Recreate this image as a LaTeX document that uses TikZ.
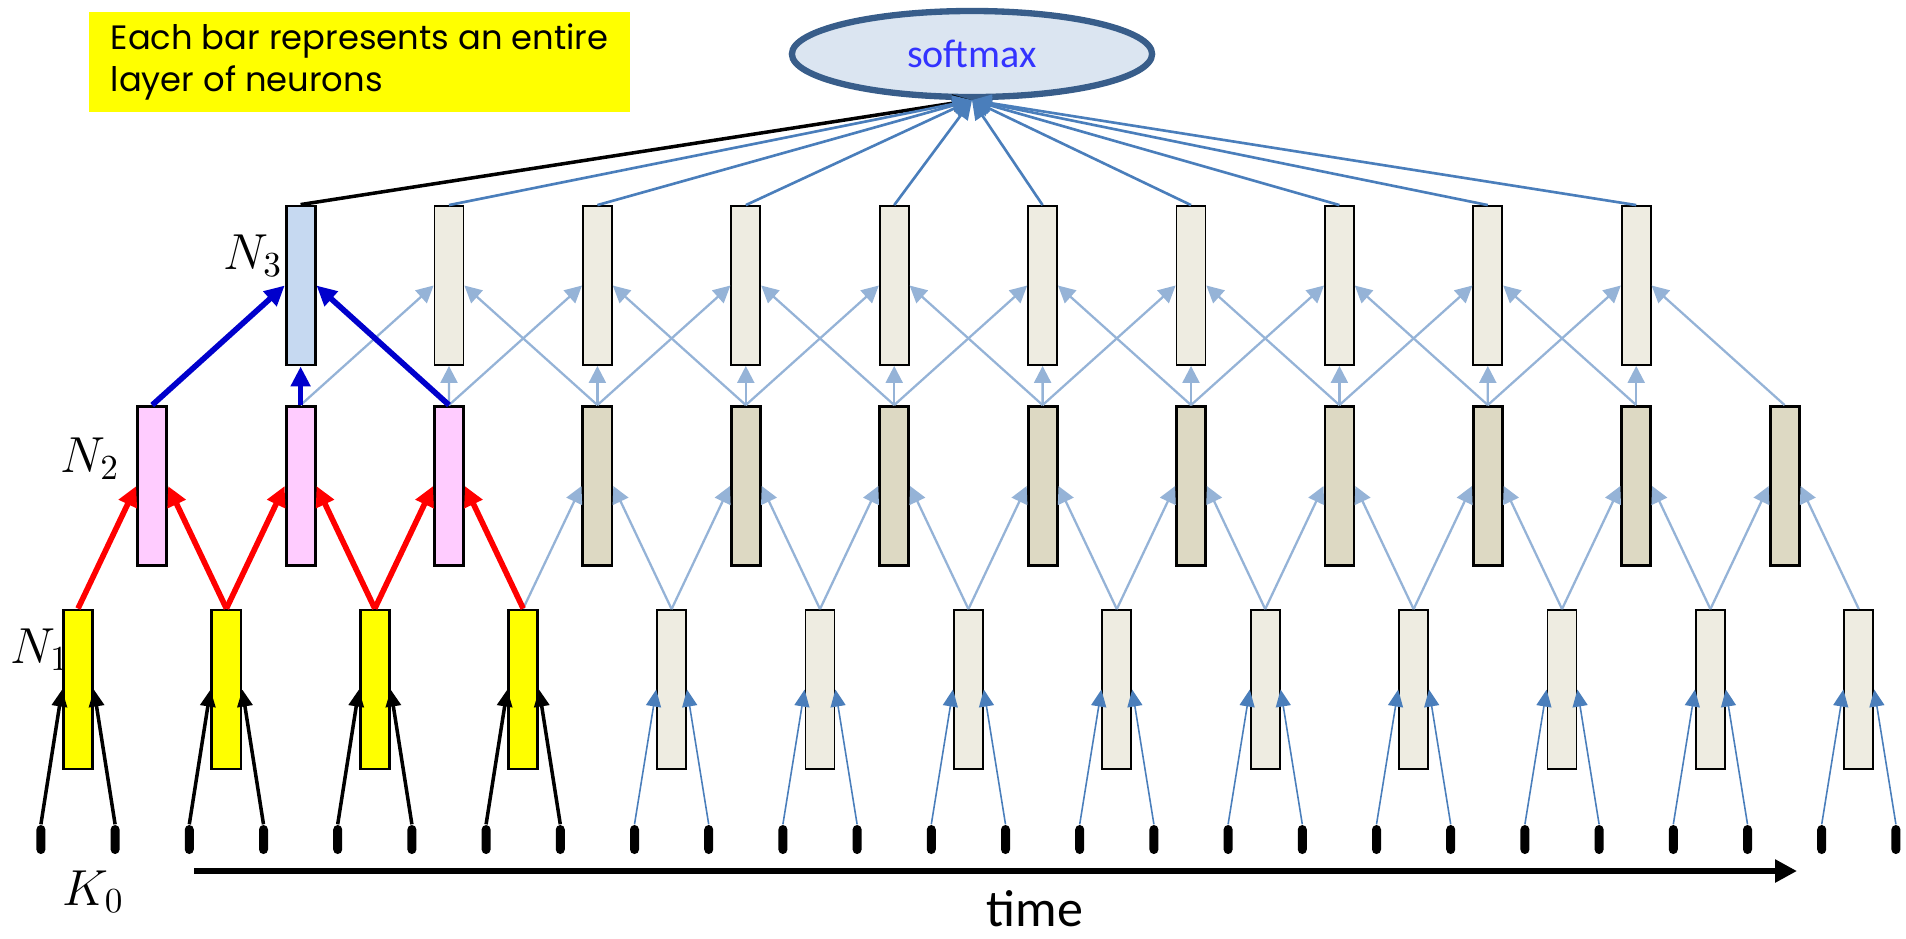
\documentclass[tikz,border=0pt]{standalone}
\usepackage{fontspec}
\setmainfont{Carlito}
\newfontfamily\notefont{Poppins}
\usepackage{xcolor}
\usetikzlibrary{arrows.meta,shapes.geometric}
\definecolor{barlight}{HTML}{EEECE1}
\definecolor{bardark}{HTML}{DDD9C3}
\definecolor{barpink}{HTML}{FFCCFF}
\definecolor{barblue}{HTML}{C6D9F1}
\definecolor{baryellow}{HTML}{FFFF00}
\definecolor{linkpale}{HTML}{95B3D7}
\definecolor{linkmid}{HTML}{4A7EBB}
\definecolor{linkdeep}{HTML}{0000CC}
\definecolor{linkred}{HTML}{FF0000}
\definecolor{smaxedge}{HTML}{385D8A}
\definecolor{smaxfill}{HTML}{DBE5F1}
\definecolor{smaxtext}{HTML}{3333FF}

\begin{document}
\begin{tikzpicture}[x=0.01cm, y=-0.01cm,
  bar/.style={draw=black, line width=0.8pt, minimum width=0.29cm, minimum height=1.59cm, inner sep=0pt},
  thinbar/.style={bar, line width=0.5pt},
  inmark/.style={fill=black, rounded corners=0.045cm, minimum width=0.09cm, minimum height=0.29cm, inner sep=0pt},
  layerlab/.style={anchor=base west, inner sep=0pt, font=\fontsize{14}{16}\selectfont},
  paleedge/.style={linkpale, line width=0.65pt, -{Triangle[length=0.17cm,width=0.17cm]}},
  inedge/.style={linkmid, line width=0.45pt, -{Triangle[length=0.17cm,width=0.15cm]}},
  blackin/.style={black, line width=1pt, -{Triangle[length=0.17cm,width=0.15cm]}},
  rededge/.style={linkred, line width=1.6pt, -{Triangle[length=0.2cm,width=0.19cm]}},
  deepedge/.style={linkdeep, line width=1.6pt, -{Triangle[length=0.2cm,width=0.19cm]}},
  outedge/.style={linkmid, line width=0.75pt, -{Triangle[length=0.19cm,width=0.17cm]}},
]
\useasboundingbox (0,0) rectangle (1906,938);

% ---------------- note ----------------
\node[fill=baryellow, minimum width=5.41cm, minimum height=0.95cm, align=left,
  font=\notefont\fontsize{9.6}{11.8}\selectfont] (note) at (359.5,62)
  {Each bar represents an entire\\layer of neurons};

% ---------------- softmax ----------------
\node[ellipse, draw=smaxedge, fill=smaxfill, line width=1.8pt, minimum width=3.6cm, minimum height=0.86cm,
  inner sep=0pt, text=smaxtext, font=\fontsize{11.4}{13}\selectfont] (smax) at (972,54) {softmax};

% ---------------- inputs K0 and layer N1 ----------------
\foreach \k in {0,...,12}{
  \pgfmathsetmacro\cx{78+148.4*\k}
  \node[inmark] (k0l-\k) at (\cx-37.1,839.5) {};
  \node[inmark] (k0r-\k) at (\cx+37.1,839.5) {};
  \ifnum\k<4
    \node[bar, fill=baryellow] (n1-\k) at (\cx,689.5) {};
  \else
    \node[thinbar, fill=barlight] (n1-\k) at (\cx,689.5) {};
  \fi
}

% ---------------- layer N2 ----------------
\foreach \k in {0,...,11}{
  \pgfmathsetmacro\cx{152.2+148.4*\k}
  \ifnum\k<3
    \node[bar, fill=barpink] (n2-\k) at (\cx,486) {};
  \else
    \node[bar, fill=bardark] (n2-\k) at (\cx,486) {};
  \fi
}

% ---------------- layer N3 ----------------
\foreach \k in {0,...,9}{
  \pgfmathsetmacro\cx{300.6+148.4*\k}
  \ifnum\k<1
    \node[bar, fill=barblue] (n3-\k) at (\cx,285.5) {};
  \else
    \node[thinbar, fill=barlight] (n3-\k) at (\cx,285.5) {};
  \fi
}

% ---------------- connections ----------------
\foreach \k in {0,...,12}{
  \ifnum\k<4
    \draw[blackin] (k0l-\k.north) -- (n1-\k.west);
    \draw[blackin] (k0r-\k.north) -- (n1-\k.east);
  \else
    \draw[inedge] (k0l-\k.north) -- (n1-\k.west);
    \draw[inedge] (k0r-\k.north) -- (n1-\k.east);
  \fi
}
\foreach \k in {3,...,11}{
  \pgfmathtruncatemacro\j{\k+1}
  \draw[paleedge] (n1-\k.north) -- (n2-\k.west);
  \draw[paleedge] (n1-\j.north) -- (n2-\k.east);
}
\foreach \k in {0,1,2}{
  \pgfmathtruncatemacro\j{\k+1}
  \draw[rededge] (n1-\k.north) -- (n2-\k.west);
  \draw[rededge] (n1-\j.north) -- (n2-\k.east);
}
\foreach \k in {1,...,9}{
  \pgfmathtruncatemacro\j{\k+1}
  \pgfmathtruncatemacro\m{\k+2}
  \draw[paleedge] (n2-\k.north) -- (n3-\k.west);
  \draw[paleedge] (n2-\j.north) -- (n3-\k.south);
  \draw[paleedge] (n2-\m.north) -- (n3-\k.east);
}
\draw[deepedge] (n2-0.north) -- (n3-0.west);
\draw[deepedge] (n2-1.north) -- (n3-0.south);
\draw[deepedge] (n2-2.north) -- (n3-0.east);

% to softmax
\draw[black, line width=1pt, -{Triangle[length=0.19cm,width=0.17cm]}] (n3-0.north) -- (smax.south);
\foreach \k in {1,...,9} \draw[outedge] (n3-\k.north) -- (smax.south);

% ---------------- labels and time axis ----------------
\node[layerlab] (lab3) at (223,269) {$N_3$};
\node[layerlab] (lab2) at (60,472) {$N_2$};
\node[layerlab] (lab1) at (10,663) {$N_1$};
\node[layerlab] (lab0) at (62,905) {$K_0$};

\coordinate (t0) at (194,871);
\coordinate (t1) at (1797,871);
\draw[line width=1.6pt, -{Triangle[length=0.22cm,width=0.22cm]}] (t0) -- (t1);
\node[anchor=base, inner sep=0pt, font=\fontsize{14.8}{17}\selectfont] (tlab) at (1035,926) {time};
\end{tikzpicture}
\end{document}
